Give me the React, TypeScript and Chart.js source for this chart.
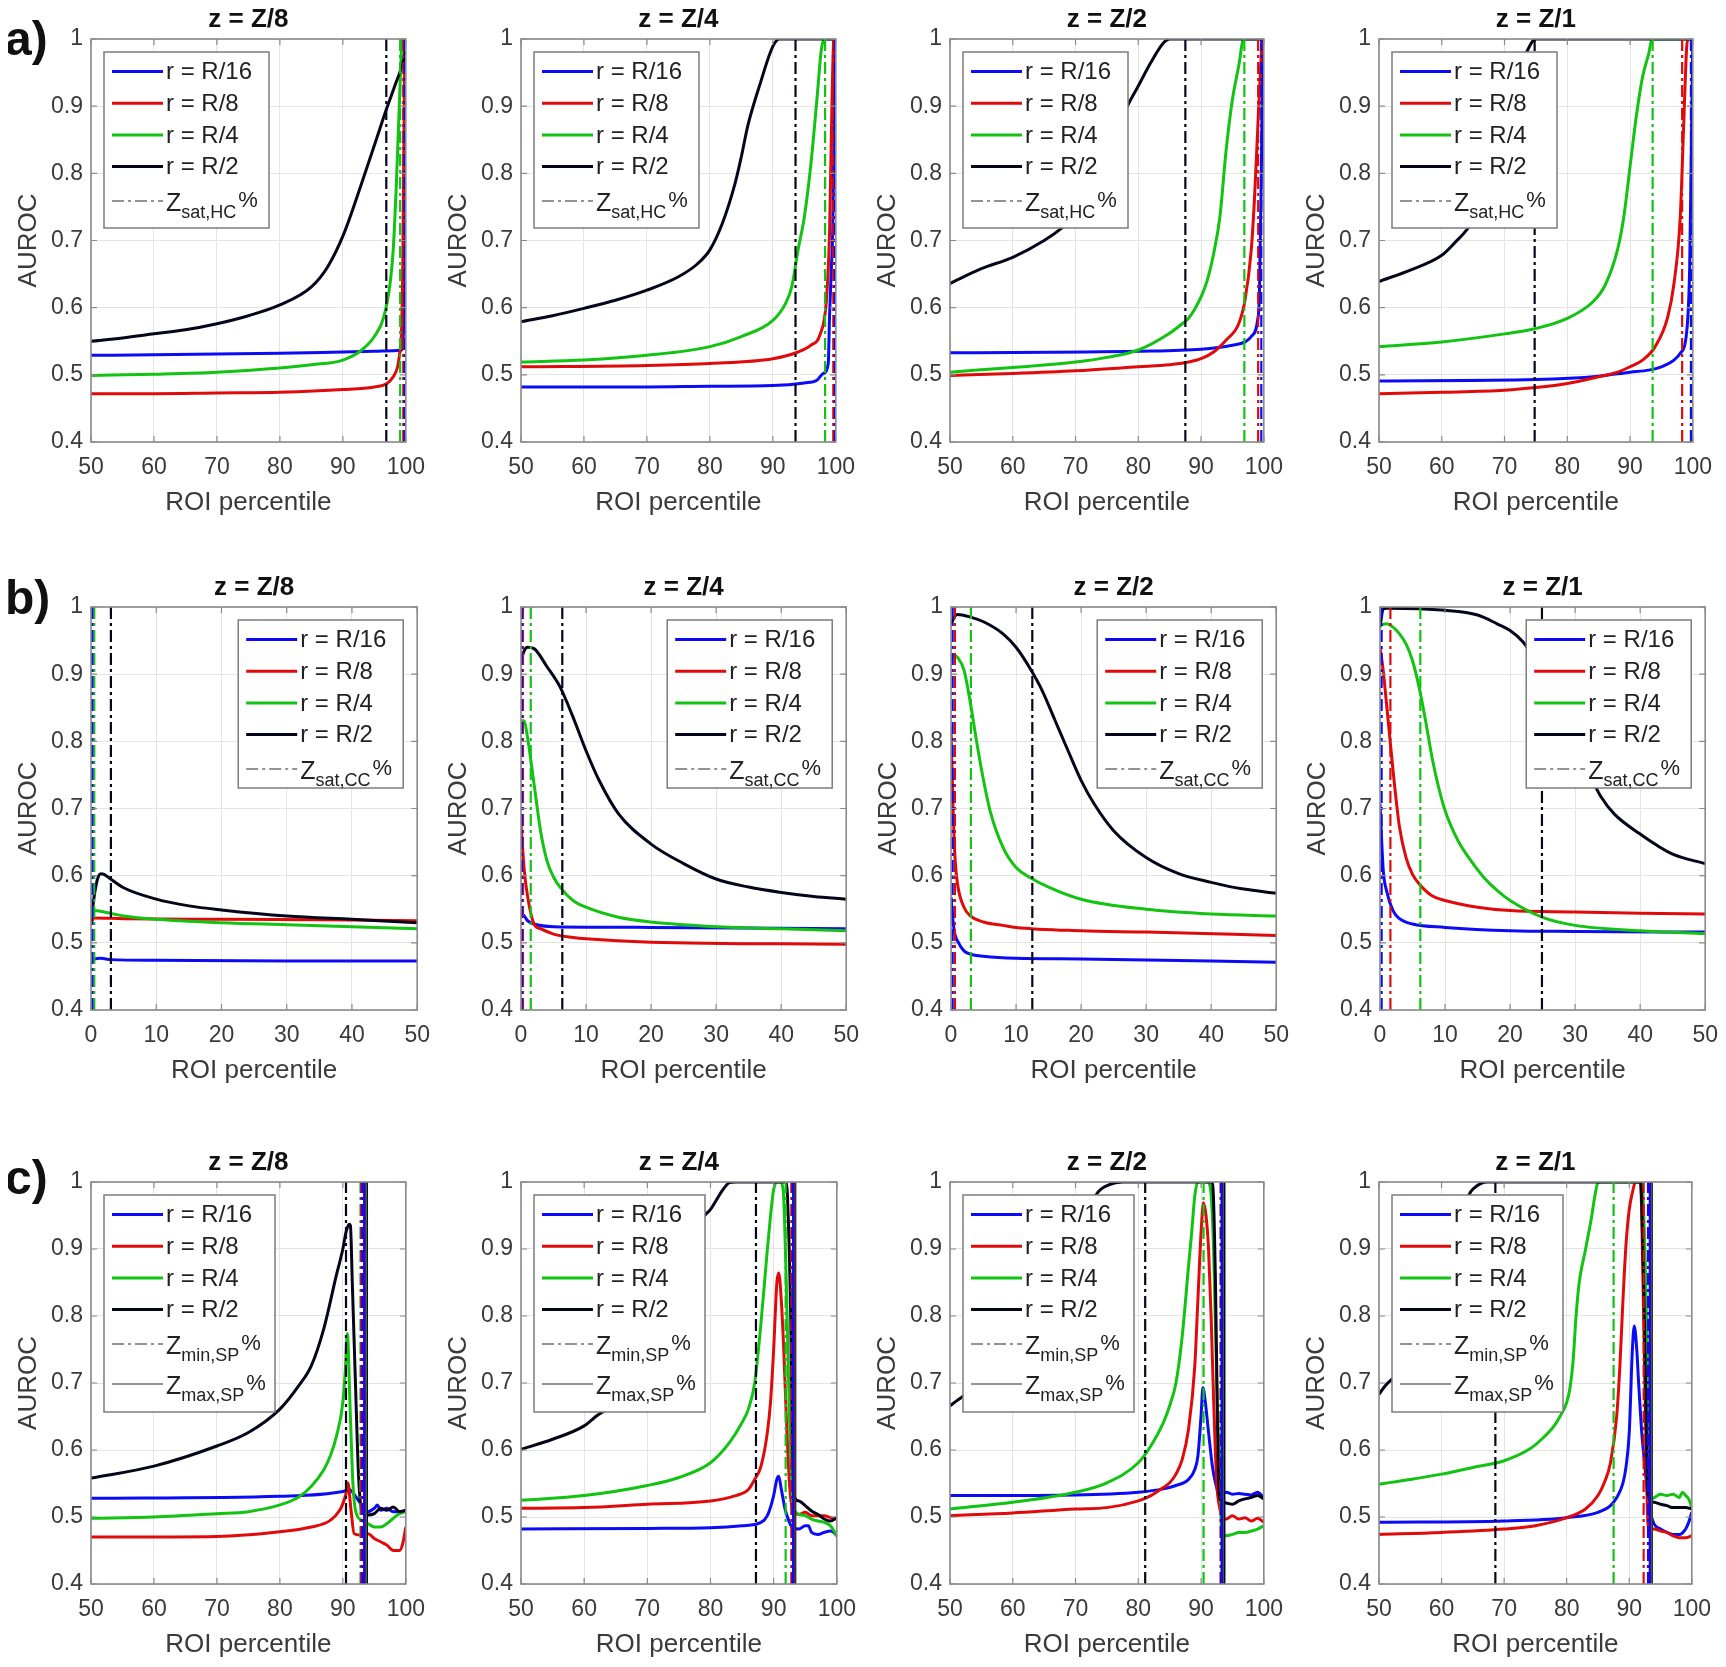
import React, { useEffect, useRef } from 'react';
import { Chart, registerables } from 'chart.js';

Chart.register(...registerables);

type Pt = [number, number];

// ---------------- data ----------------
const SERIES_LABELS = ['r = R/16', 'r = R/8', 'r = R/4', 'r = R/2'];
const PANEL_TITLES = ['z = Z/8', 'z = Z/4', 'z = Z/2', 'z = Z/1'];
const ROW_LABELS = ['a)', 'b)', 'c)'];
const X_TICKS_HIGH = [50, 60, 70, 80, 90, 100];
const X_TICKS_LOW = [0, 10, 20, 30, 40, 50];
const Y_TICKS = [0.4, 0.5, 0.6, 0.7, 0.8, 0.9, 1];

// row a) — Z_sat,HC
const a1_R16: Pt[] = [[50,0.529],[60,0.53],[70,0.531],[80,0.532],[90,0.534],[95,0.535],[98,0.536],[99.3,0.537],[99.6,0.56],[99.8,0.7],[99.9,0.9],[100,1.0]];
const a1_R8: Pt[] = [[50,0.472],[60,0.472],[70,0.473],[80,0.474],[90,0.478],[95,0.482],[97,0.487],[98,0.497],[98.7,0.512],[99,0.53],[99.3,0.56],[99.5,0.65],[99.7,0.85],[99.85,1.0],[100,1.0]];
const a1_R4: Pt[] = [[50,0.499],[60,0.501],[70,0.504],[80,0.51],[85,0.515],[90,0.522],[93,0.537],[95,0.557],[96.5,0.586],[97.5,0.636],[98,0.686],[98.5,0.785],[99,0.91],[99.3,0.98],[99.5,1.0],[100,1.0]];
const a1_R2: Pt[] = [[50,0.55],[55,0.555],[60,0.561],[65,0.567],[70,0.576],[75,0.588],[80,0.604],[85,0.631],[87.6,0.661],[90.2,0.711],[92.8,0.78],[95.3,0.85],[96.9,0.895],[98.4,0.934],[99.7,0.97],[100,0.985]];
const a1_sat = [99.8, 99.6, 99.1, 96.9];

const a2_R16: Pt[] = [[50,0.482],[70,0.482],[80,0.483],[90,0.484],[95,0.488],[97,0.492],[98,0.502],[98.8,0.517],[99,0.586],[99.3,0.66],[99.5,0.71],[99.7,0.85],[99.85,0.95],[100,1.0]];
const a2_R8: Pt[] = [[50,0.512],[70,0.514],[80,0.517],[90,0.524],[94,0.534],[96,0.544],[97.5,0.56],[98.5,0.61],[99,0.71],[99.4,0.91],[99.7,1.0],[100,1.0]];
const a2_R4: Pt[] = [[50,0.519],[60,0.522],[70,0.529],[80,0.542],[85,0.557],[90,0.581],[92,0.606],[93,0.631],[94,0.686],[95,0.735],[96,0.81],[97,0.91],[97.7,0.984],[98.2,1.0],[100,1.0]];
const a2_R2: Pt[] = [[50,0.579],[55,0.588],[60,0.599],[65,0.611],[70,0.626],[75,0.646],[78,0.665],[80,0.686],[82,0.726],[84,0.785],[85,0.825],[86,0.87],[88,0.934],[90,0.989],[91,1.0],[100,1.0]];
const a2_sat = [99.85, 99.6, 98.3, 93.6];

const a3_R16: Pt[] = [[50,0.533],[80,0.535],[90,0.538],[95,0.544],[97,0.549],[98,0.557],[99,0.581],[99.3,0.62],[99.6,0.8],[99.8,0.95],[100,1.0]];
const a3_R8: Pt[] = [[50,0.499],[60,0.502],[70,0.506],[80,0.512],[85,0.515],[88,0.519],[90,0.524],[92,0.534],[94,0.552],[96,0.576],[97,0.611],[98,0.686],[98.5,0.76],[99,0.86],[99.5,0.96],[99.8,1.0],[100,1.0]];
const a3_R4: Pt[] = [[50,0.504],[60,0.511],[70,0.519],[75,0.526],[80,0.537],[85,0.562],[87,0.576],[88,0.584],[90,0.616],[91,0.641],[92,0.68],[93,0.735],[94,0.835],[95,0.91],[96,0.96],[96.8,1.0],[100,1.0]];
const a3_R2: Pt[] = [[50,0.636],[55,0.658],[60,0.675],[65,0.7],[68,0.72],[70,0.737],[72,0.762],[74,0.8],[76,0.85],[78,0.895],[80,0.93],[82,0.965],[84,0.994],[85,1.0],[100,1.0]];
const a3_sat = [99.6, 99.1, 96.9, 87.5];

const a4_R16: Pt[] = [[50,0.491],[75,0.493],[85,0.498],[90,0.504],[93,0.507],[95,0.512],[97,0.522],[98,0.532],[99,0.562],[99.5,0.66],[99.8,0.86],[100,1.0]];
const a4_R8: Pt[] = [[50,0.472],[60,0.474],[70,0.477],[75,0.481],[80,0.487],[85,0.497],[88,0.504],[90,0.512],[92,0.522],[94,0.542],[96,0.586],[97,0.636],[98,0.735],[98.5,0.86],[99,0.984],[99.2,1.0],[100,1.0]];
const a4_R4: Pt[] = [[50,0.542],[60,0.549],[70,0.561],[75,0.569],[80,0.584],[84,0.608],[86,0.633],[88,0.686],[89,0.735],[90,0.81],[91,0.885],[92,0.944],[93,0.979],[93.5,1.0],[100,1.0]];
const a4_R2: Pt[] = [[50,0.639],[55,0.656],[60,0.678],[62,0.696],[65,0.73],[68,0.8],[70,0.87],[72,0.94],[73.5,0.98],[75,1.0],[100,1.0]];
const a4_sat = [99.7, 98.3, 93.6, 74.8];

// row b) — Z_sat,CC
const b1_R16: Pt[] = [[0,0.47],[0.5,0.476],[1.5,0.477],[3,0.475],[10,0.474],[30,0.473],[50,0.473]];
const b1_R8: Pt[] = [[0,0.53],[0.5,0.537],[5,0.536],[20,0.535],[40,0.534],[50,0.533]];
const b1_R4: Pt[] = [[0,0.535],[0.5,0.548],[2,0.546],[5,0.54],[10,0.535],[20,0.53],[30,0.527],[40,0.524],[50,0.521]];
const b1_R2: Pt[] = [[0,0.53],[0.5,0.57],[1,0.595],[1.5,0.603],[2,0.602],[3,0.595],[5,0.582],[10,0.565],[15,0.555],[20,0.549],[30,0.54],[40,0.535],[50,0.53]];
const b1_sat = [0.2, 0.1, 0.5, 3.05];

const b2_R16: Pt[] = [[0,0.543],[0.5,0.54],[1,0.533],[2,0.528],[5,0.524],[20,0.523],[50,0.521]];
const b2_R8: Pt[] = [[0,0.677],[0.5,0.608],[1,0.57],[2,0.528],[3,0.521],[5,0.513],[8,0.508],[10,0.506],[20,0.501],[50,0.498]];
const b2_R4: Pt[] = [[0,0.831],[0.5,0.83],[1,0.806],[2,0.737],[3,0.667],[4,0.622],[5,0.598],[6,0.583],[8,0.563],[10,0.553],[15,0.538],[20,0.531],[30,0.524],[40,0.521],[50,0.518]];
const b2_R2: Pt[] = [[0,0.92],[0.5,0.935],[1,0.94],[2,0.938],[4,0.911],[6,0.881],[8,0.836],[10,0.786],[12,0.742],[15,0.692],[20,0.647],[25,0.618],[30,0.595],[35,0.583],[40,0.575],[45,0.569],[50,0.565]];
const b2_sat = [0.15, 0.3, 1.5, 6.35];

const b3_R16: Pt[] = [[0,0.568],[0.3,0.533],[0.6,0.513],[1,0.503],[2,0.488],[3,0.483],[5,0.48],[10,0.477],[20,0.476],[50,0.471]];
const b3_R8: Pt[] = [[0,0.821],[0.3,0.707],[0.6,0.63],[1,0.588],[2,0.553],[3,0.54],[5,0.531],[8,0.526],[10,0.523],[20,0.518],[30,0.516],[50,0.511]];
const b3_R4: Pt[] = [[0,0.92],[0.5,0.928],[1,0.925],[2,0.906],[3,0.856],[4,0.796],[5,0.742],[6,0.697],[8,0.642],[10,0.612],[12,0.598],[15,0.583],[20,0.565],[30,0.55],[40,0.543],[50,0.54]];
const b3_R2: Pt[] = [[0,0.973],[0.5,0.985],[1,0.989],[3,0.985],[5,0.978],[8,0.96],[10,0.94],[12,0.911],[14,0.876],[16,0.831],[18,0.786],[20,0.742],[22,0.707],[25,0.667],[30,0.627],[35,0.603],[40,0.59],[45,0.58],[50,0.574]];
const b3_sat = [0.25, 0.6, 3.06, 12.5];

const b4_R16: Pt[] = [[0,0.707],[0.5,0.608],[1,0.578],[2,0.548],[3,0.536],[5,0.528],[10,0.523],[20,0.518],[30,0.517],[50,0.516]];
const b4_R8: Pt[] = [[0,0.94],[0.5,0.905],[1,0.856],[2,0.757],[3,0.672],[4,0.627],[5,0.602],[6,0.588],[8,0.57],[10,0.563],[15,0.553],[20,0.548],[30,0.546],[40,0.544],[50,0.543]];
const b4_R4: Pt[] = [[0,0.973],[1,0.975],[2,0.97],[3,0.96],[4,0.945],[5,0.92],[6,0.881],[7,0.831],[8,0.776],[9,0.732],[10,0.697],[12,0.652],[14,0.622],[16,0.597],[18,0.578],[20,0.563],[25,0.538],[30,0.526],[40,0.518],[50,0.514]];
const b4_R2: Pt[] = [[0,0.97],[0.5,0.997],[1,0.998],[10,0.995],[15,0.988],[18,0.975],[20,0.965],[22,0.948],[24,0.92],[26,0.88],[28,0.835],[30,0.795],[32,0.755],[34,0.717],[36,0.692],[40,0.662],[45,0.632],[50,0.618]];
const b4_sat = [0.25, 1.6, 6.2, 24.9];

// row c) — Z_min,SP / Z_max,SP
const c1_R16: Pt[] = [[50,0.528],[80,0.531],[90,0.538],[91,0.541],[92,0.531],[93,0.518],[94,0.508],[95,0.513],[95.5,0.518],[96,0.51],[97,0.513],[98,0.508],[99,0.508],[100,0.51]];
const c1_R8: Pt[] = [[50,0.47],[70,0.471],[80,0.478],[85,0.485],[88,0.495],[89.5,0.51],[90,0.52],[90.5,0.535],[90.8,0.551],[91.3,0.51],[91.8,0.475],[93,0.473],[94,0.475],[95,0.468],[96,0.463],[97,0.458],[98,0.45],[99,0.45],[99.5,0.46],[100,0.485]];
const c1_R4: Pt[] = [[50,0.498],[60,0.5],[70,0.505],[75,0.508],[80,0.518],[83,0.53],[85,0.546],[87,0.571],[88,0.591],[89,0.621],[90,0.671],[90.4,0.72],[90.7,0.774],[91.2,0.65],[91.6,0.55],[92,0.51],[93,0.495],[94,0.49],[95,0.485],[96,0.485],[97,0.49],[98,0.498],[99,0.505],[100,0.508]];
const c1_R2: Pt[] = [[50,0.558],[60,0.576],[70,0.606],[75,0.626],[80,0.661],[83,0.696],[85,0.726],[87,0.782],[89,0.862],[90,0.9],[90.5,0.925],[91,0.937],[91.2,0.935],[91.5,0.85],[92,0.7],[92.5,0.56],[93,0.51],[94,0.503],[95,0.505],[96,0.513],[97,0.51],[98,0.515],[99,0.508],[100,0.51]];
const c1_min = [93.1, 92.9, 92.8, 90.5];
const c1_max = [93.4, 93.5, 93.6, 93.8];

const c2_R16: Pt[] = [[50,0.482],[70,0.483],[80,0.484],[85,0.487],[88,0.492],[89,0.502],[90,0.532],[90.5,0.556],[90.8,0.561],[91.2,0.542],[91.8,0.512],[92.5,0.492],[93,0.484],[94,0.482],[95,0.487],[95.5,0.487],[96,0.477],[97,0.474],[98,0.477],[99,0.479],[99.5,0.477],[100,0.472]];
const c2_R8: Pt[] = [[50,0.513],[60,0.514],[70,0.519],[80,0.524],[84,0.532],[86,0.541],[87,0.556],[88,0.576],[89,0.626],[89.5,0.671],[90,0.75],[90.5,0.849],[90.8,0.864],[91.2,0.825],[91.6,0.75],[92,0.651],[92.5,0.551],[93,0.512],[94,0.504],[95,0.507],[96,0.502],[97,0.502],[98,0.502],[99,0.499],[100,0.497]];
const c2_R4: Pt[] = [[50,0.525],[60,0.532],[70,0.547],[75,0.559],[80,0.581],[83,0.611],[85,0.641],[86,0.661],[87,0.7],[88,0.79],[89,0.899],[89.5,0.949],[90,0.989],[90.5,1.0],[91,1.0],[91.5,0.989],[92,0.85],[92.5,0.651],[93,0.527],[93.5,0.507],[94,0.504],[95,0.502],[96,0.497],[97,0.494],[98,0.492],[99,0.487],[100,0.472]];
const c2_R2: Pt[] = [[50,0.601],[55,0.616],[60,0.636],[62,0.651],[65,0.67],[70,0.72],[75,0.82],[77,0.89],[78.7,0.944],[80,0.959],[82,0.989],[83,0.999],[84,1.0],[92,1.0],[92.3,0.95],[92.7,0.8],[93,0.6],[93.3,0.53],[94,0.524],[95,0.517],[96,0.509],[97,0.504],[98,0.497],[99,0.494],[100,0.499]];
const c2_min = [93.0, 92.8, 91.9, 87.2];
const c2_max = [93.1, 93.2, 93.25, 93.4];

const c3_R16: Pt[] = [[50,0.532],[70,0.533],[80,0.537],[84,0.542],[86,0.547],[88,0.556],[89,0.571],[89.5,0.591],[90,0.651],[90.3,0.693],[90.7,0.67],[91.2,0.626],[91.8,0.576],[92.3,0.551],[93,0.532],[94,0.537],[95,0.534],[96,0.535],[97,0.534],[98,0.533],[99,0.537],[100,0.529]];
const c3_R8: Pt[] = [[50,0.502],[60,0.506],[70,0.512],[75,0.514],[80,0.524],[82,0.532],[84,0.544],[85,0.551],[86,0.564],[87,0.586],[88,0.631],[89,0.725],[89.5,0.825],[90,0.924],[90.4,0.969],[90.8,0.949],[91.2,0.899],[91.6,0.8],[92,0.676],[92.5,0.551],[93,0.512],[93.5,0.497],[94,0.497],[95,0.502],[96,0.497],[97,0.499],[98,0.494],[99,0.498],[100,0.492]];
const c3_R4: Pt[] = [[50,0.512],[60,0.522],[70,0.537],[75,0.551],[80,0.581],[82,0.606],[84,0.641],[85,0.666],[86,0.7],[87,0.77],[88,0.874],[88.5,0.924],[89,0.979],[89.5,1.0],[91,1.0],[91.5,0.99],[92,0.899],[92.5,0.7],[93,0.551],[93.3,0.477],[94,0.472],[95,0.474],[96,0.477],[97,0.477],[98,0.479],[99,0.482],[100,0.487]];
const c3_R2: Pt[] = [[50,0.666],[51,0.673],[55,0.7],[60,0.74],[65,0.8],[70,0.9],[72,0.95],[73.3,0.981],[75.4,0.996],[77.5,1.0],[91.8,1.0],[92.3,0.85],[92.6,0.65],[92.8,0.55],[93,0.527],[94,0.521],[95,0.519],[96,0.524],[97,0.527],[98,0.529],[99,0.532],[100,0.527]];
const c3_min = [93.2, 93.1, 90.4, 81.1];
const c3_max = [93.3, 93.35, 93.4, 93.7];

const c4_R16: Pt[] = [[50,0.492],[70,0.494],[80,0.499],[85,0.507],[87,0.517],[88,0.529],[89,0.551],[89.5,0.576],[90,0.626],[90.5,0.75],[90.8,0.785],[91.2,0.75],[91.5,0.7],[92,0.626],[92.5,0.576],[93,0.527],[93.5,0.502],[94,0.489],[95,0.482],[96,0.477],[97,0.474],[98,0.474],[99,0.482],[99.5,0.492],[100,0.507]];
const c4_R8: Pt[] = [[50,0.474],[60,0.477],[70,0.482],[75,0.487],[80,0.499],[83,0.512],[85,0.532],[86,0.551],[87,0.581],[88,0.651],[88.5,0.725],[89,0.825],[89.5,0.909],[90,0.959],[90.5,0.984],[91,1.0],[91.8,1.0],[92.2,0.85],[92.5,0.7],[92.8,0.55],[93,0.487],[94,0.482],[95,0.479],[96,0.477],[97,0.472],[98,0.469],[99,0.469],[100,0.472]];
const c4_R4: Pt[] = [[50,0.549],[55,0.556],[60,0.564],[65,0.574],[70,0.584],[74,0.601],[76,0.616],[78,0.636],[79,0.651],[80,0.671],[80.5,0.691],[81,0.73],[81.5,0.8],[82,0.85],[83,0.899],[84,0.949],[84.5,0.979],[85,0.999],[85.5,1.0],[92,1.0],[92.5,0.9],[93,0.7],[93.3,0.55],[93.5,0.527],[94,0.529],[95,0.534],[96,0.532],[97,0.534],[98,0.529],[98.5,0.537],[99,0.532],[99.5,0.527],[100,0.514]];
const c4_R2: Pt[] = [[50,0.683],[51,0.696],[55,0.73],[58,0.78],[60,0.83],[62,0.9],[63.5,0.95],[64.4,0.981],[65.2,0.991],[67.3,1.0],[91.8,1.0],[92.3,0.85],[92.7,0.65],[93,0.532],[94,0.522],[95,0.519],[96,0.517],[97,0.514],[98,0.514],[99,0.514],[100,0.512]];
const c4_min = [93.0, 92.3, 87.5, 68.6];
const c4_max = [93.3, 93.4, 93.5, 93.6];

// ---------------- styles & layout ----------------
const FONT = "'Liberation Sans', Arial, Helvetica, sans-serif";
const SERIES_COLORS = ['#0b0bf5', '#e10a0a', '#12c312', '#05061c'];
const GRID_COLOR = '#e4e4e4';
const AXIS_COLOR = '#8a8a8a';
const TICK_COLOR = '#3a3a3a';
const DASH_DOT = [12, 4, 3, 4];
const ORIGIN = 8;

type Threshold = { vals: number[]; dash: number[] };
type Extra = { main: string; sub: string; dash: number[] };
type PanelSpec = {
  id: string;
  title: string;
  L: number; T: number; W: number; H: number;
  xMin: number; xMax: number; xTicks: number[];
  curves: Pt[][];
  thresholds: Threshold[];
  legendSide: 'left' | 'right';
  legendW: number; legendH: number;
  extras: Extra[];
};

const ROW_A = { T: 39, H: 403, L: [91, 521, 950, 1379], W: [322, 322, 321, 321] };
const ROW_B = { T: 607, H: 403, L: [91, 521, 951, 1380], W: [327, 326, 326, 326] };
const ROW_C = { T: 1182, H: 402, L: [91, 521, 950, 1379], W: [322, 323, 321, 320] };

const aCurves = [[a1_R16, a1_R8, a1_R4, a1_R2], [a2_R16, a2_R8, a2_R4, a2_R2], [a3_R16, a3_R8, a3_R4, a3_R2], [a4_R16, a4_R8, a4_R4, a4_R2]];
const aSat = [a1_sat, a2_sat, a3_sat, a4_sat];
const bCurves = [[b1_R16, b1_R8, b1_R4, b1_R2], [b2_R16, b2_R8, b2_R4, b2_R2], [b3_R16, b3_R8, b3_R4, b3_R2], [b4_R16, b4_R8, b4_R4, b4_R2]];
const bSat = [b1_sat, b2_sat, b3_sat, b4_sat];
const cCurves = [[c1_R16, c1_R8, c1_R4, c1_R2], [c2_R16, c2_R8, c2_R4, c2_R2], [c3_R16, c3_R8, c3_R4, c3_R2], [c4_R16, c4_R8, c4_R4, c4_R2]];
const cMin = [c1_min, c2_min, c3_min, c4_min];
const cMax = [c1_max, c2_max, c3_max, c4_max];

const PANELS: PanelSpec[] = [];
for (let i = 0; i < 4; i++) {
  PANELS.push({
    id: 'a' + i, title: PANEL_TITLES[i], L: ROW_A.L[i], T: ROW_A.T, W: ROW_A.W[i], H: ROW_A.H,
    xMin: 50, xMax: 100, xTicks: X_TICKS_HIGH, curves: aCurves[i],
    thresholds: [{ vals: aSat[i], dash: DASH_DOT }],
    legendSide: 'left', legendW: 165, legendH: 176,
    extras: [{ main: 'Z', sub: 'sat,HC', dash: DASH_DOT }],
  });
}
for (let i = 0; i < 4; i++) {
  PANELS.push({
    id: 'b' + i, title: PANEL_TITLES[i], L: ROW_B.L[i], T: ROW_B.T, W: ROW_B.W[i], H: ROW_B.H,
    xMin: 0, xMax: 50, xTicks: X_TICKS_LOW, curves: bCurves[i],
    thresholds: [{ vals: bSat[i], dash: DASH_DOT }],
    legendSide: 'right', legendW: 165, legendH: 168,
    extras: [{ main: 'Z', sub: 'sat,CC', dash: DASH_DOT }],
  });
}
for (let i = 0; i < 4; i++) {
  PANELS.push({
    id: 'c' + i, title: PANEL_TITLES[i], L: ROW_C.L[i], T: ROW_C.T, W: ROW_C.W[i], H: ROW_C.H,
    xMin: 50, xMax: 100, xTicks: X_TICKS_HIGH, curves: cCurves[i],
    thresholds: [{ vals: cMin[i], dash: DASH_DOT }, { vals: cMax[i], dash: [] }],
    legendSide: 'left', legendW: 171, legendH: 217,
    extras: [{ main: 'Z', sub: 'min,SP', dash: DASH_DOT }, { main: 'Z', sub: 'max,SP', dash: [] }],
  });
}

const PAD_LEFT = 82;
const PAD_RIGHT = 24;
const PAD_TOP = 36;
const PAD_BOTTOM = 80;

function makeOverlay(spec: PanelSpec) {
  return {
    id: 'overlay_' + spec.id,
    afterDatasetsDraw(chart: any) {
      const { ctx, chartArea: ca } = chart;
      const xs = chart.scales.x;
      const ys = chart.scales.y;
      ctx.save();
      // inner tick marks on all four sides
      ctx.strokeStyle = AXIS_COLOR;
      ctx.lineWidth = 1.2;
      ctx.setLineDash([]);
      ctx.beginPath();
      for (const t of xs.ticks) {
        const px = xs.getPixelForValue(t.value);
        ctx.moveTo(px, ca.bottom); ctx.lineTo(px, ca.bottom - 6);
        ctx.moveTo(px, ca.top); ctx.lineTo(px, ca.top + 6);
      }
      for (const t of ys.ticks) {
        const py = ys.getPixelForValue(t.value);
        ctx.moveTo(ca.left, py); ctx.lineTo(ca.left + 6, py);
        ctx.moveTo(ca.right, py); ctx.lineTo(ca.right - 6, py);
      }
      ctx.stroke();
      // axes box
      ctx.lineWidth = 1.6;
      ctx.strokeRect(ca.left, ca.top, ca.right - ca.left, ca.bottom - ca.top);

      // legend
      const bw = spec.legendW;
      const bh = spec.legendH;
      const bx = spec.legendSide === 'left' ? ca.left + 13 : ca.right - 14 - bw;
      const by = ca.top + 13;
      ctx.fillStyle = '#ffffff';
      ctx.fillRect(bx, by, bw, bh);
      ctx.strokeStyle = '#7c7c7c';
      ctx.lineWidth = 1.5;
      ctx.strokeRect(bx, by, bw, bh);
      const sx0 = bx + 8;
      const sx1 = bx + 59;
      const tx = bx + 62;
      ctx.textBaseline = 'middle';
      ctx.textAlign = 'left';
      for (let i = 0; i < SERIES_LABELS.length; i++) {
        const y = by + 19.5 + i * 31.7;
        ctx.strokeStyle = SERIES_COLORS[i];
        ctx.lineWidth = 3;
        ctx.setLineDash([]);
        ctx.beginPath(); ctx.moveTo(sx0, y); ctx.lineTo(sx1, y); ctx.stroke();
        ctx.fillStyle = '#222';
        ctx.font = `24px ${FONT}`;
        ctx.fillText(SERIES_LABELS[i], tx, y + 1);
      }
      spec.extras.forEach((ex, k) => {
        const y = by + 149 + k * 40;
        ctx.strokeStyle = '#707070';
        ctx.lineWidth = 1.6;
        ctx.setLineDash(ex.dash);
        ctx.beginPath(); ctx.moveTo(sx0, y); ctx.lineTo(sx1, y); ctx.stroke();
        ctx.setLineDash([]);
        ctx.fillStyle = '#222';
        ctx.textBaseline = 'alphabetic';
        ctx.font = `25px ${FONT}`;
        ctx.fillText(ex.main, tx, y + 9.5);
        let cx = tx + ctx.measureText(ex.main).width;
        ctx.font = `18px ${FONT}`;
        ctx.fillText(ex.sub, cx, y + 17);
        cx += ctx.measureText(ex.sub).width + 2;
        ctx.font = `22px ${FONT}`;
        ctx.fillText('%', cx, y + 6);
        ctx.textBaseline = 'middle';
      });
      ctx.restore();
    },
  };
}

function Panel({ spec }: { spec: PanelSpec }) {
  const ref = useRef<HTMLCanvasElement>(null);
  const cw = spec.W + PAD_LEFT + PAD_RIGHT;
  const ch = spec.H + PAD_TOP + PAD_BOTTOM;
  useEffect(() => {
    const canvas = ref.current;
    if (!canvas) return;
    const datasets: any[] = [];
    spec.thresholds.forEach((th) => {
      th.vals.forEach((v, i) => {
        datasets.push({
          label: 'threshold',
          data: [{ x: v, y: 0.4 }, { x: v, y: 1 }],
          borderColor: SERIES_COLORS[i],
          borderWidth: th.dash.length ? 2.2 : 2.4,
          borderDash: th.dash,
          pointRadius: 0,
          tension: 0,
          fill: false,
          order: 0,
        });
      });
    });
    spec.curves.forEach((pts, i) => {
      datasets.push({
        label: SERIES_LABELS[i],
        data: pts.map(([x, y]) => ({ x, y })),
        borderColor: SERIES_COLORS[i],
        borderWidth: 3,
        pointRadius: 0,
        cubicInterpolationMode: 'monotone',
        fill: false,
        order: 5 - i,
      });
    });
    const xTicks = spec.xTicks;
    const chart = new Chart(canvas, {
      type: 'line',
      data: { datasets },
      options: {
        responsive: false,
        animation: false,
        devicePixelRatio: 1,
        events: [],
        layout: { padding: { left: 0, right: PAD_RIGHT, top: 0, bottom: 0 } },
        plugins: {
          legend: { display: false },
          tooltip: { enabled: false },
          title: {
            display: true,
            text: spec.title,
            fullSize: false,
            color: '#111',
            font: { family: FONT, size: 26, weight: 'bold', lineHeight: 1 },
            padding: { top: 4, bottom: 6 },
          },
        },
        scales: {
          x: {
            type: 'linear',
            min: spec.xMin,
            max: spec.xMax,
            afterBuildTicks: (s: any) => { s.ticks = xTicks.map((v) => ({ value: v })); },
            afterFit: (s: any) => { s.height = PAD_BOTTOM; },
            grid: { color: GRID_COLOR, lineWidth: 1, drawTicks: false },
            border: { display: false },
            ticks: {
              color: TICK_COLOR, font: { family: FONT, size: 23 }, padding: 12,
              maxRotation: 0, minRotation: 0, autoSkip: false,
              callback: (v: any) => String(v),
            },
            title: {
              display: true, text: 'ROI percentile', color: TICK_COLOR,
              font: { family: FONT, size: 26, lineHeight: 1 }, padding: { top: 0, bottom: 6 },
            },
          },
          y: {
            type: 'linear',
            min: 0.4,
            max: 1,
            afterBuildTicks: (s: any) => { s.ticks = Y_TICKS.map((v) => ({ value: v })); },
            afterFit: (s: any) => { s.width = PAD_LEFT; },
            grid: { color: GRID_COLOR, lineWidth: 1, drawTicks: false },
            border: { display: false },
            ticks: {
              color: TICK_COLOR, font: { family: FONT, size: 23 }, padding: 8,
              callback: (v: any) => (Math.abs(v - 1) < 1e-9 ? '1' : Number(v).toFixed(1)),
            },
            title: {
              display: true, text: 'AUROC', color: TICK_COLOR,
              font: { family: FONT, size: 26, lineHeight: 1 }, padding: { top: 7, bottom: 0 },
            },
          },
        },
      } as any,
      plugins: [makeOverlay(spec)],
    });
    return () => chart.destroy();
  }, [spec]);
  return (
    <canvas
      ref={ref}
      width={cw}
      height={ch}
      style={{
        position: 'absolute',
        left: spec.L - PAD_LEFT - ORIGIN,
        top: spec.T - PAD_TOP - ORIGIN,
        width: cw,
        height: ch,
      }}
    />
  );
}

const ROW_LABEL_TOPS = [15, 574, 1154];
const ROW_LABEL_LEFT = 5;

export default function App() {
  return (
    <div style={{ position: 'relative', width: 1710, height: 1651, background: '#fff' }}>
      {PANELS.map((p) => (
        <Panel key={p.id} spec={p} />
      ))}
      {ROW_LABELS.map((lab, i) => (
        <div
          key={lab}
          style={{
            position: 'absolute', left: ROW_LABEL_LEFT - ORIGIN, top: ROW_LABEL_TOPS[i] - ORIGIN,
            font: `bold 48px ${FONT}`, lineHeight: '48px', color: '#111', whiteSpace: 'nowrap',
          }}
        >
          {lab}
        </div>
      ))}
    </div>
  );
}
